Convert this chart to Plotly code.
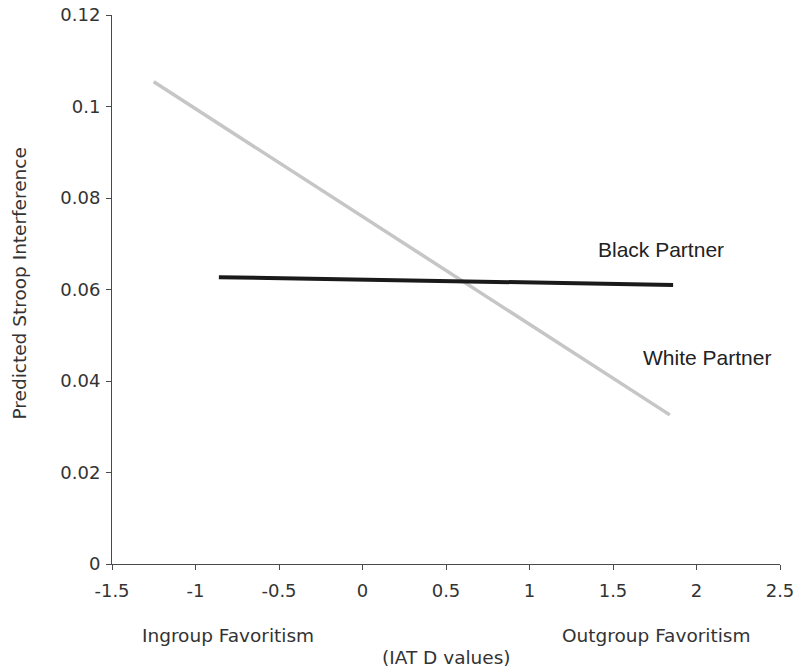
import plotly.graph_objects as go

# Data
white_x = [-1.25, 1.84]
white_y = [0.1054, 0.0326]
black_x = [-0.86, 1.86]
black_y = [0.0627, 0.0610]
x_ticks = [-1.5, -1, -0.5, 0, 0.5, 1, 1.5, 2, 2.5]
x_tick_labels = ["-1.5", "-1", "-0.5", "0", "0.5", "1", "1.5", "2", "2.5"]
y_ticks = [0, 0.02, 0.04, 0.06, 0.08, 0.1, 0.12]
y_tick_labels = ["0", "0.02", "0.04", "0.06", "0.08", "0.1", "0.12"]

W, H = 796, 671
L, R, T, B = 112, 16, 15, 107
PW, PH = W - L - R, H - T - B

fig = go.Figure()
fig.add_trace(go.Scatter(x=white_x, y=white_y, mode="lines",
                         line=dict(color="#c6c6c6", width=3.5), name="White Partner",
                         showlegend=False))
fig.add_trace(go.Scatter(x=black_x, y=black_y, mode="lines",
                         line=dict(color="#1a1a1a", width=4), name="Black Partner",
                         showlegend=False))

FONT = "DejaVu Sans, Verdana, sans-serif"
tickfont = dict(family=FONT, size=18, color="#333333")

fig.update_layout(
    width=W, height=H,
    margin=dict(l=L, r=R, t=T, b=B),
    plot_bgcolor="white", paper_bgcolor="white",
    xaxis=dict(range=[-1.5, 2.5], tickvals=x_ticks, ticktext=x_tick_labels,
               showgrid=False, zeroline=False, showline=True, linecolor="#4a4a4a",
               linewidth=1, ticks="outside", ticklen=5, tickcolor="#4a4a4a",
               tickfont=tickfont, automargin=False, ticklabelstandoff=5),
    yaxis=dict(range=[0, 0.12], tickvals=y_ticks, ticktext=y_tick_labels,
               showgrid=False, zeroline=False, showline=True, linecolor="#4a4a4a",
               linewidth=1, ticks="outside", ticklen=5, tickcolor="#4a4a4a",
               tickfont=tickfont, automargin=False, ticklabelstandoff=2),
)

labfont = dict(family=FONT, size=18.5, color="#333333")
# y-axis title as rotated annotation
fig.add_annotation(xref="paper", yref="paper", x=(18.5 - L) / PW, y=(H - B - 284) / PH,
                   text="Predicted Stroop Interference", textangle=-90,
                   showarrow=False, font=labfont, xanchor="center", yanchor="middle")

annfont = dict(family="Liberation Sans, Arial, sans-serif", size=21, color="#222222")
fig.add_annotation(x=1.79, y=0.0687, text="Black Partner", showarrow=False, font=annfont,
                   xanchor="center", yanchor="middle")
fig.add_annotation(x=2.06, y=0.0452, text="White Partner", showarrow=False, font=annfont,
                   xanchor="center", yanchor="middle")

for text, px, py in [("Ingroup Favoritism", 227.5, 635),
                     ("Outgroup Favoritism", 656.7, 635),
                     ("(IAT D values)", 446, 658)]:
    fig.add_annotation(xref="paper", yref="paper", x=(px - L) / PW, y=-(py - (H - B)) / PH,
                       text=text, showarrow=False, font=labfont,
                       xanchor="center", yanchor="middle")

fig.write_html("out.html", config={"displayModeBar": False},
               post_script="document.body.style.margin='0';document.body.style.overflow='hidden';")
